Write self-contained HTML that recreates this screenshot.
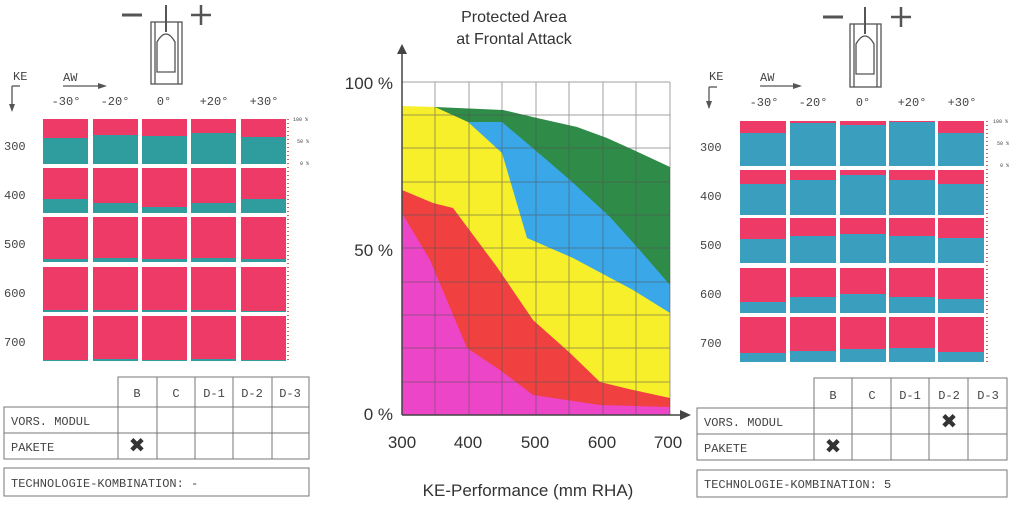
<!DOCTYPE html>
<html><head><meta charset="utf-8"><style>
html,body{margin:0;padding:0;background:#fff;}
svg{display:block;}
.m{font-family:"Liberation Mono",monospace;fill:#444;font-size:12px;}
.s{font-family:"Liberation Sans",sans-serif;fill:#333;}
.gp{fill:#ee3a66;}
.tl{fill:#2f9c9e;}
.tr{fill:#3a9fbe;}
</style></head><body>
<svg width="1024" height="505" viewBox="0 0 1024 505" xmlns="http://www.w3.org/2000/svg">
<rect width="1024" height="505" fill="#fff"/>

<!-- ===== LEFT PANEL ===== -->
<g stroke="#555" fill="none" stroke-width="1.3">
  <line x1="122" y1="15" x2="142" y2="15" stroke-width="3"/>
  <line x1="191" y1="15" x2="211" y2="15" stroke-width="2.5"/>
  <line x1="201" y1="5" x2="201" y2="25" stroke-width="2.5"/>
  <line x1="166" y1="5" x2="166" y2="32" stroke-width="2"/>
  <rect x="151" y="22" width="31" height="62"/>
  <path d="M157 72 L157 42 Q166 26 175 42 L175 72 Z"/>
  <line x1="155" y1="22" x2="155" y2="84"/><line x1="178" y1="22" x2="178" y2="84"/>
  <line x1="12" y1="86" x2="20" y2="86"/><line x1="12" y1="86" x2="12" y2="110"/>
  <line x1="63" y1="86" x2="105" y2="86"/>
</g>
<path d="M9 104 L12 112 L15 104 Z" fill="#555"/>
<path d="M98 83 L107 86 L98 89 Z" fill="#555"/>
<text class="m" x="13" y="80">KE</text>
<text class="m" x="63" y="81">AW</text>
<g class="m" text-anchor="middle" font-size="13">
<text x="66" y="105">-30°</text><text x="115" y="105">-20°</text><text x="164" y="105">0°</text><text x="214" y="105">+20°</text><text x="264" y="105">+30°</text>
</g>
<g class="m" font-size="13">
<text x="4" y="150">300</text><text x="4" y="199">400</text><text x="4" y="248">500</text><text x="4" y="297">600</text><text x="4" y="346">700</text>
</g>
<g font-family="Liberation Mono,monospace" font-size="5" fill="#444"><text x="293" y="121">100 %</text><text x="297" y="143">50 %</text><text x="300" y="165">0 %</text></g>
<line x1="288" y1="119" x2="288" y2="361" stroke="#c33" stroke-width="1.5" stroke-dasharray="1 3"/>
<!-- left cells -->
<g>
<rect class="gp" x="43" y="119" width="45" height="45"/><rect class="tl" x="43" y="138" width="45" height="26"/>
<rect class="gp" x="93" y="119" width="45" height="45"/><rect class="tl" x="93" y="135" width="45" height="29"/>
<rect class="gp" x="142" y="119" width="45" height="45"/><rect class="tl" x="142" y="136" width="45" height="28"/>
<rect class="gp" x="191" y="119" width="45" height="45"/><rect class="tl" x="191" y="133" width="45" height="31"/>
<rect class="gp" x="241" y="119" width="45" height="45"/><rect class="tl" x="241" y="137" width="45" height="27"/>

<rect class="gp" x="43" y="168" width="45" height="45"/><rect class="tl" x="43" y="199" width="45" height="14"/>
<rect class="gp" x="93" y="168" width="45" height="45"/><rect class="tl" x="93" y="203" width="45" height="10"/>
<rect class="gp" x="142" y="168" width="45" height="45"/><rect class="tl" x="142" y="207" width="45" height="6"/>
<rect class="gp" x="191" y="168" width="45" height="45"/><rect class="tl" x="191" y="203" width="45" height="10"/>
<rect class="gp" x="241" y="168" width="45" height="45"/><rect class="tl" x="241" y="199" width="45" height="14"/>

<rect class="gp" x="43" y="217" width="45" height="45"/><rect class="tl" x="43" y="259" width="45" height="3"/>
<rect class="gp" x="93" y="217" width="45" height="45"/><rect class="tl" x="93" y="258" width="45" height="4"/>
<rect class="gp" x="142" y="217" width="45" height="45"/><rect class="tl" x="142" y="259" width="45" height="3"/>
<rect class="gp" x="191" y="217" width="45" height="45"/><rect class="tl" x="191" y="258" width="45" height="4"/>
<rect class="gp" x="241" y="217" width="45" height="45"/><rect class="tl" x="241" y="259" width="45" height="3"/>

<rect class="gp" x="43" y="267" width="45" height="45"/><rect class="tl" x="43" y="310" width="45" height="2"/>
<rect class="gp" x="93" y="267" width="45" height="45"/><rect class="tl" x="93" y="310" width="45" height="2"/>
<rect class="gp" x="142" y="267" width="45" height="45"/><rect class="tl" x="142" y="310" width="45" height="2"/>
<rect class="gp" x="191" y="267" width="45" height="45"/><rect class="tl" x="191" y="310" width="45" height="2"/>
<rect class="gp" x="241" y="267" width="45" height="45"/><rect class="tl" x="241" y="311" width="45" height="1"/>

<rect class="gp" x="43" y="316" width="45" height="45"/><rect class="tl" x="43" y="360" width="45" height="1"/>
<rect class="gp" x="93" y="316" width="45" height="45"/><rect class="tl" x="93" y="359" width="45" height="2"/>
<rect class="gp" x="142" y="316" width="45" height="45"/><rect class="tl" x="142" y="360" width="45" height="1"/>
<rect class="gp" x="191" y="316" width="45" height="45"/><rect class="tl" x="191" y="359" width="45" height="2"/>
<rect class="gp" x="241" y="316" width="45" height="45"/><rect class="tl" x="241" y="360" width="45" height="1"/>
</g>
<!-- left table -->
<g stroke="#777" fill="none" stroke-width="1">
<rect x="118" y="377" width="191" height="82"/>
<rect x="4" y="407" width="114" height="52"/>
<line x1="4" y1="433" x2="309" y2="433"/><line x1="118" y1="407" x2="309" y2="407"/>
<line x1="157" y1="377" x2="157" y2="459"/><line x1="195" y1="377" x2="195" y2="459"/><line x1="233" y1="377" x2="233" y2="459"/><line x1="272" y1="377" x2="272" y2="459"/>
<rect x="4" y="468" width="305" height="28"/>
</g>
<g class="m" text-anchor="middle"><text x="137" y="397">B</text><text x="176" y="397">C</text><text x="214" y="397">D-1</text><text x="252" y="397">D-2</text><text x="290" y="397">D-3</text></g>
<text class="m" x="11" y="425">VORS. MODUL</text>
<text class="m" x="11" y="451">PAKETE</text>
<text class="m" x="11" y="487">TECHNOLOGIE-KOMBINATION:  -</text>
<text x="137" y="452" text-anchor="middle" font-family="DejaVu Sans,sans-serif" font-size="20" fill="#333" font-weight="bold">✖</text>

<!-- ===== CENTER CHART ===== -->
<text class="s" x="514" y="22" text-anchor="middle" font-size="16">Protected Area</text>
<text class="s" x="514" y="44" text-anchor="middle" font-size="16">at Frontal Attack</text>
<polygon points="435,107 503,110 537,118 577,127 607,138 640,153 670,167 670,415 435,415" fill="#2e8b48"/>
<polygon points="468,122 502,122 535,150 570,180 610,217 637,247 670,285 670,415 468,415" fill="#3aa8e8"/>
<polygon points="402,106 435,107 468,122 502,153 527,238 573,258 633,290 670,313 670,415 402,415" fill="#f7ef2a"/>
<polygon points="402,190 433,203 453,208 497,267 533,320 570,353 600,382 633,390 670,398 670,415 402,415" fill="#f04040"/>
<polygon points="402,213 430,260 467,348 500,370 533,395 600,405 670,407 670,415 402,415" fill="#ec45c8"/>
<g stroke="#555" stroke-width="1" opacity="0.55">
<line x1="402" y1="82" x2="670" y2="82"/><line x1="402" y1="115" x2="670" y2="115"/><line x1="402" y1="148" x2="670" y2="148"/><line x1="402" y1="182" x2="670" y2="182"/><line x1="402" y1="215" x2="670" y2="215"/><line x1="402" y1="248" x2="670" y2="248"/><line x1="402" y1="282" x2="670" y2="282"/><line x1="402" y1="315" x2="670" y2="315"/><line x1="402" y1="348" x2="670" y2="348"/><line x1="402" y1="382" x2="670" y2="382"/>
<line x1="435" y1="82" x2="435" y2="415"/><line x1="469" y1="82" x2="469" y2="415"/><line x1="502" y1="82" x2="502" y2="415"/><line x1="536" y1="82" x2="536" y2="415"/><line x1="569" y1="82" x2="569" y2="415"/><line x1="603" y1="82" x2="603" y2="415"/><line x1="636" y1="82" x2="636" y2="415"/><line x1="670" y1="82" x2="670" y2="415"/>
</g>
<line x1="402" y1="415" x2="402" y2="52" stroke="#444" stroke-width="1.5"/>
<path d="M397 54 L402 44 L407 54 Z" fill="#444"/>
<line x1="402" y1="415" x2="682" y2="415" stroke="#444" stroke-width="1.5"/>
<path d="M680 410 L691 415 L680 420 Z" fill="#444"/>
<g class="s" font-size="17" text-anchor="end"><text x="393" y="89">100 %</text><text x="393" y="256">50 %</text><text x="393" y="420">0 %</text></g>
<g class="s" font-size="17" text-anchor="middle"><text x="402" y="448">300</text><text x="468" y="448">400</text><text x="535" y="448">500</text><text x="602" y="448">600</text><text x="668" y="448">700</text></g>
<text class="s" x="528" y="496" text-anchor="middle" font-size="17">KE-Performance (mm RHA)</text>

<!-- ===== RIGHT PANEL ===== -->
<g stroke="#555" fill="none" stroke-width="1.3">
  <line x1="823" y1="17" x2="843" y2="17" stroke-width="3"/>
  <line x1="891" y1="17" x2="911" y2="17" stroke-width="2.5"/>
  <line x1="901" y1="7" x2="901" y2="27" stroke-width="2.5"/>
  <line x1="865" y1="7" x2="865" y2="34" stroke-width="2"/>
  <rect x="850" y="24" width="31" height="63"/>
  <path d="M856 74 L856 44 Q865 28 874 44 L874 74 Z"/>
  <line x1="854" y1="24" x2="854" y2="87"/><line x1="877" y1="24" x2="877" y2="87"/>
  <line x1="709" y1="87" x2="717" y2="87"/><line x1="709" y1="87" x2="709" y2="108"/>
  <line x1="760" y1="86" x2="800" y2="86"/>
</g>
<path d="M706 101 L709 109 L712 101 Z" fill="#555"/>
<path d="M793 83 L802 86 L793 89 Z" fill="#555"/>
<text class="m" x="709" y="80">KE</text>
<text class="m" x="760" y="81">AW</text>
<g class="m" text-anchor="middle" font-size="13">
<text x="764" y="106">-30°</text><text x="813" y="106">-20°</text><text x="863" y="106">0°</text><text x="912" y="106">+20°</text><text x="962" y="106">+30°</text>
</g>
<g class="m" font-size="13">
<text x="700" y="151">300</text><text x="700" y="200">400</text><text x="700" y="249">500</text><text x="700" y="298">600</text><text x="700" y="347">700</text>
</g>
<g font-family="Liberation Mono,monospace" font-size="5" fill="#444"><text x="993" y="123">100 %</text><text x="997" y="145">50 %</text><text x="1000" y="167">0 %</text></g>
<line x1="987" y1="121" x2="987" y2="362" stroke="#c33" stroke-width="1.5" stroke-dasharray="1 3"/>
<g>
<rect class="gp" x="740" y="121" width="46" height="45"/><rect class="tr" x="740" y="133" width="46" height="33"/>
<rect class="gp" x="790" y="121" width="46" height="45"/><rect class="tr" x="790" y="123" width="46" height="43"/>
<rect class="gp" x="840" y="121" width="46" height="45"/><rect class="tr" x="840" y="125" width="46" height="41"/>
<rect class="gp" x="889" y="121" width="46" height="45"/><rect class="tr" x="889" y="122" width="46" height="44"/>
<rect class="gp" x="938" y="121" width="46" height="45"/><rect class="tr" x="938" y="133" width="46" height="33"/>

<rect class="gp" x="740" y="170" width="46" height="45"/><rect class="tr" x="740" y="184" width="46" height="31"/>
<rect class="gp" x="790" y="170" width="46" height="45"/><rect class="tr" x="790" y="180" width="46" height="35"/>
<rect class="gp" x="840" y="170" width="46" height="45"/><rect class="tr" x="840" y="175" width="46" height="40"/>
<rect class="gp" x="889" y="170" width="46" height="45"/><rect class="tr" x="889" y="180" width="46" height="35"/>
<rect class="gp" x="938" y="170" width="46" height="45"/><rect class="tr" x="938" y="184" width="46" height="31"/>

<rect class="gp" x="740" y="218" width="46" height="45"/><rect class="tr" x="740" y="239" width="46" height="24"/>
<rect class="gp" x="790" y="218" width="46" height="45"/><rect class="tr" x="790" y="236" width="46" height="27"/>
<rect class="gp" x="840" y="218" width="46" height="45"/><rect class="tr" x="840" y="234" width="46" height="29"/>
<rect class="gp" x="889" y="218" width="46" height="45"/><rect class="tr" x="889" y="236" width="46" height="27"/>
<rect class="gp" x="938" y="218" width="46" height="45"/><rect class="tr" x="938" y="238" width="46" height="25"/>

<rect class="gp" x="740" y="268" width="46" height="45"/><rect class="tr" x="740" y="302" width="46" height="11"/>
<rect class="gp" x="790" y="268" width="46" height="45"/><rect class="tr" x="790" y="297" width="46" height="16"/>
<rect class="gp" x="840" y="268" width="46" height="45"/><rect class="tr" x="840" y="294" width="46" height="19"/>
<rect class="gp" x="889" y="268" width="46" height="45"/><rect class="tr" x="889" y="297" width="46" height="16"/>
<rect class="gp" x="938" y="268" width="46" height="45"/><rect class="tr" x="938" y="299" width="46" height="14"/>

<rect class="gp" x="740" y="317" width="46" height="45"/><rect class="tr" x="740" y="353" width="46" height="9"/>
<rect class="gp" x="790" y="317" width="46" height="45"/><rect class="tr" x="790" y="351" width="46" height="11"/>
<rect class="gp" x="840" y="317" width="46" height="45"/><rect class="tr" x="840" y="349" width="46" height="13"/>
<rect class="gp" x="889" y="317" width="46" height="45"/><rect class="tr" x="889" y="348" width="46" height="14"/>
<rect class="gp" x="938" y="317" width="46" height="45"/><rect class="tr" x="938" y="352" width="46" height="10"/>
</g>
<g stroke="#777" fill="none" stroke-width="1">
<rect x="814" y="378" width="193" height="82"/>
<rect x="697" y="408" width="117" height="52"/>
<line x1="697" y1="434" x2="1007" y2="434"/><line x1="814" y1="408" x2="1007" y2="408"/>
<line x1="852" y1="378" x2="852" y2="460"/><line x1="891" y1="378" x2="891" y2="460"/><line x1="929" y1="378" x2="929" y2="460"/><line x1="968" y1="378" x2="968" y2="460"/>
<rect x="697" y="470" width="310" height="27"/>
</g>
<g class="m" text-anchor="middle"><text x="833" y="399">B</text><text x="872" y="399">C</text><text x="910" y="399">D-1</text><text x="949" y="399">D-2</text><text x="988" y="399">D-3</text></g>
<text class="m" x="704" y="426">VORS. MODUL</text>
<text class="m" x="704" y="452">PAKETE</text>
<text class="m" x="704" y="488">TECHNOLOGIE-KOMBINATION:  5</text>
<text x="833" y="453" text-anchor="middle" font-family="DejaVu Sans,sans-serif" font-size="20" fill="#333" font-weight="bold">✖</text>
<text x="949" y="428" text-anchor="middle" font-family="DejaVu Sans,sans-serif" font-size="20" fill="#333" font-weight="bold">✖</text>
</svg>
</body></html>
